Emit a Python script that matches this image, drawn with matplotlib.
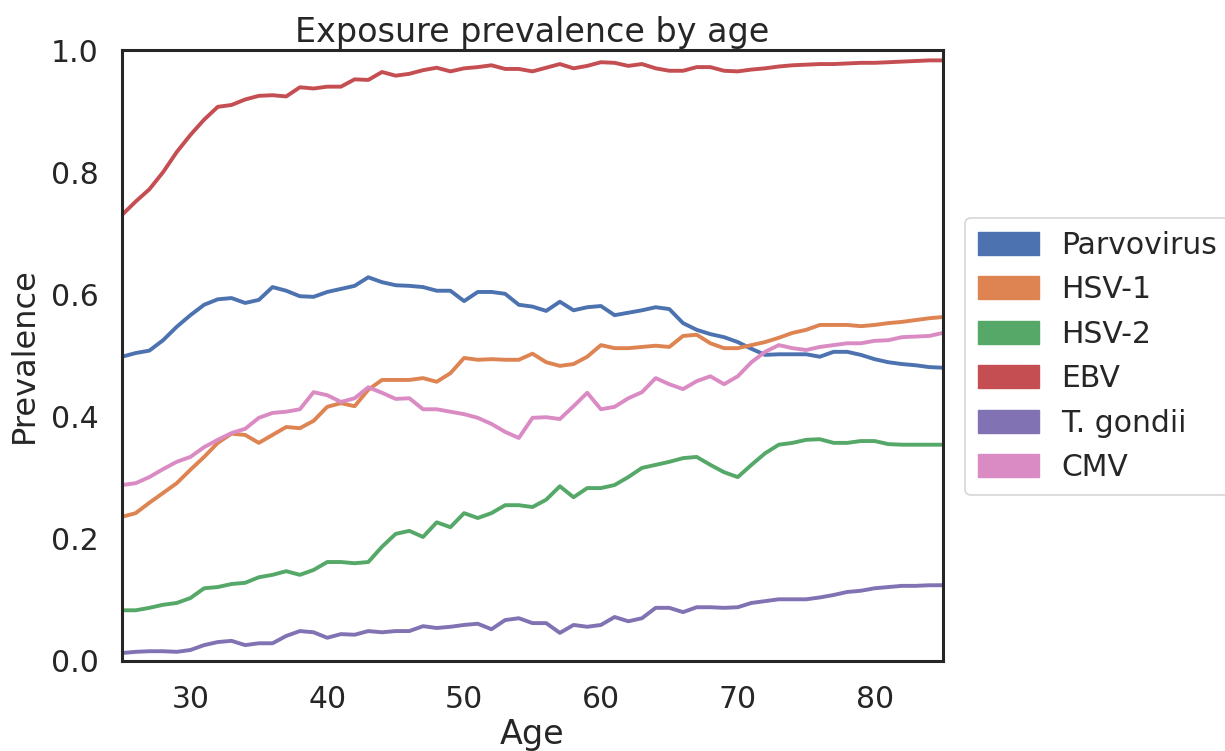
import numpy as np
import matplotlib
matplotlib.use("Agg")
import matplotlib.pyplot as plt
from matplotlib.patches import Patch

# ages 25..85, one value per year
ages = list(range(25, 86))

parvovirus = [0.498, 0.504, 0.508, 0.525, 0.547, 0.566, 0.583, 0.592, 0.594, 0.586,
              0.591, 0.612, 0.606, 0.597, 0.596, 0.604, 0.609, 0.614, 0.628, 0.620,
              0.615, 0.614, 0.612, 0.606, 0.606, 0.589, 0.604, 0.604, 0.601, 0.583,
              0.580, 0.573, 0.588, 0.574, 0.579, 0.581, 0.566, 0.570, 0.574, 0.579,
              0.576, 0.553, 0.542, 0.535, 0.530, 0.522, 0.511, 0.501, 0.502, 0.502,
              0.502, 0.498, 0.506, 0.506, 0.501, 0.494, 0.489, 0.486, 0.484, 0.481,
              0.480]
hsv1 = [0.236, 0.242, 0.259, 0.275, 0.291, 0.313, 0.334, 0.357, 0.372, 0.370,
        0.357, 0.370, 0.383, 0.381, 0.393, 0.416, 0.422, 0.417, 0.444, 0.460,
        0.460, 0.460, 0.463, 0.457, 0.471, 0.496, 0.493, 0.494, 0.493, 0.493,
        0.503, 0.489, 0.483, 0.486, 0.498, 0.517, 0.512, 0.512, 0.514, 0.516,
        0.514, 0.532, 0.534, 0.520, 0.512, 0.512, 0.517, 0.522, 0.529, 0.537,
        0.542, 0.550, 0.550, 0.550, 0.548, 0.550, 0.553, 0.555, 0.558, 0.561,
        0.563]
hsv2 = [0.083, 0.083, 0.087, 0.092, 0.095, 0.103, 0.119, 0.121, 0.126, 0.128,
        0.137, 0.141, 0.147, 0.141, 0.149, 0.162, 0.162, 0.160, 0.162, 0.187,
        0.208, 0.213, 0.203, 0.227, 0.219, 0.242, 0.234, 0.242, 0.255, 0.255,
        0.252, 0.264, 0.286, 0.268, 0.283, 0.283, 0.288, 0.301, 0.316, 0.321,
        0.326, 0.332, 0.334, 0.321, 0.309, 0.301, 0.321, 0.340, 0.354, 0.357,
        0.362, 0.363, 0.357, 0.357, 0.360, 0.360, 0.355, 0.354, 0.354, 0.354,
        0.354]
ebv = [0.730, 0.752, 0.772, 0.800, 0.833, 0.861, 0.886, 0.907, 0.910, 0.919,
       0.925, 0.926, 0.924, 0.939, 0.937, 0.940, 0.940, 0.952, 0.951, 0.964,
       0.958, 0.961, 0.967, 0.971, 0.965, 0.970, 0.972, 0.975, 0.969, 0.969,
       0.965, 0.971, 0.977, 0.970, 0.974, 0.980, 0.979, 0.974, 0.977, 0.970,
       0.966, 0.966, 0.972, 0.972, 0.966, 0.965, 0.968, 0.970, 0.973, 0.975,
       0.976, 0.977, 0.977, 0.978, 0.979, 0.979, 0.980, 0.981, 0.982, 0.983,
       0.983]
t_gondii = [0.013, 0.015, 0.016, 0.016, 0.015, 0.018, 0.026, 0.031, 0.033, 0.026,
            0.029, 0.029, 0.041, 0.049, 0.047, 0.038, 0.044, 0.043, 0.049, 0.047,
            0.049, 0.049, 0.057, 0.054, 0.056, 0.059, 0.061, 0.052, 0.067, 0.070,
            0.062, 0.062, 0.046, 0.059, 0.056, 0.059, 0.072, 0.065, 0.070, 0.087,
            0.087, 0.080, 0.088, 0.088, 0.087, 0.088, 0.095, 0.098, 0.101, 0.101,
            0.101, 0.104, 0.108, 0.113, 0.115, 0.119, 0.121, 0.123, 0.123, 0.124,
            0.124]
cmv = [0.288, 0.291, 0.301, 0.314, 0.326, 0.334, 0.350, 0.362, 0.373, 0.380,
       0.398, 0.406, 0.408, 0.412, 0.440, 0.435, 0.424, 0.430, 0.448, 0.439,
       0.429, 0.430, 0.412, 0.412, 0.408, 0.404, 0.398, 0.388, 0.375, 0.365,
       0.398, 0.399, 0.396, 0.417, 0.439, 0.412, 0.416, 0.430, 0.440, 0.463,
       0.453, 0.445, 0.458, 0.466, 0.453, 0.466, 0.489, 0.506, 0.517, 0.512,
       0.509, 0.514, 0.517, 0.520, 0.520, 0.524, 0.525, 0.530, 0.531, 0.532,
       0.537]

names = ['Parvovirus', 'HSV-1', 'HSV-2', 'EBV', 'T. gondii', 'CMV']
series = [parvovirus, hsv1, hsv2, ebv, t_gondii, cmv]
colors = ['#4C72B0', '#DD8452', '#55A868', '#C44E52', '#8172B3', '#DA8BC3']

plt.rcParams['font.family'] = ['DejaVu Sans']
plt.rcParams['text.color'] = '#262626'
plt.rcParams['axes.labelcolor'] = '#262626'
plt.rcParams['xtick.color'] = '#262626'
plt.rcParams['ytick.color'] = '#262626'

fig = plt.figure(figsize=(12.25, 7.51), dpi=100)
ax = fig.add_axes([122/1225, 1-661/751, (943-122)/1225, (661-50)/751])

for vals, c in zip(series, colors):
    ax.plot(ages, vals, color=c, linewidth=2.8)

ax.set_xlim(25, 85)
ax.set_ylim(0, 1)
ax.set_xticks([30, 40, 50, 60, 70, 80])
ax.set_yticks([0.0, 0.2, 0.4, 0.6, 0.8, 1.0])
ax.tick_params(axis='x', length=0, pad=17, labelsize=21.5)
ax.tick_params(axis='y', length=0, pad=17, labelsize=21.5)
for s in ax.spines.values():
    s.set_color('#262626')
    s.set_linewidth(2.2)

ax.set_title('Exposure prevalence by age', fontsize=24, pad=6)
ax.set_xlabel('Age', fontsize=24, labelpad=3)
ax.set_ylabel('Prevalence', fontsize=23, labelpad=8)

handles = [Patch(facecolor=c, edgecolor=c, label=n) for n, c in zip(names, colors)]
leg = ax.legend(handles=handles, loc='upper left',
                bbox_to_anchor=(965/1225, 1-218/751), bbox_transform=fig.transFigure,
                borderaxespad=0, fontsize=21.5, handlelength=2.05, handleheight=0.8,
                handletextpad=0.75, labelspacing=0.52, borderpad=0.42,
                frameon=True, fancybox=True)
leg.get_frame().set_edgecolor('#cccccc')
leg.get_frame().set_linewidth(1.2)

fig.savefig('out.png', dpi=100)
